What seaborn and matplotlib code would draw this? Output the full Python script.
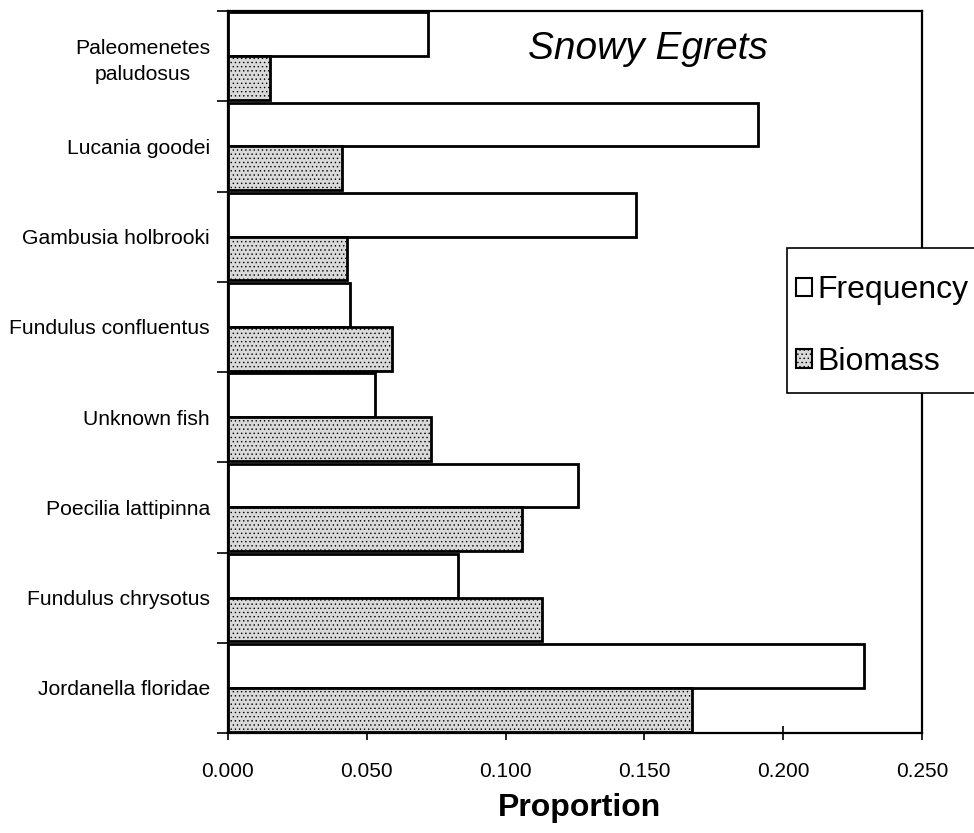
import matplotlib
matplotlib.use("Agg")
import matplotlib.pyplot as plt
from matplotlib.patches import Patch, Rectangle
import seaborn as sns
import pandas as pd
import numpy as np

species = ["Paleomenetes\npaludosus", "Lucania goodei", "Gambusia holbrooki",
           "Fundulus confluentus", "Unknown fish", "Poecilia lattipinna",
           "Fundulus chrysotus", "Jordanella floridae"]
frequency = [0.072, 0.191, 0.147, 0.044, 0.053, 0.126, 0.083, 0.229]
biomass = [0.015, 0.041, 0.043, 0.059, 0.073, 0.106, 0.113, 0.167]
series = ["Frequency", "Biomass"]
xticks = [0.0, 0.05, 0.1, 0.15, 0.2, 0.25]
xticklabels = ["0.000", "0.050", "0.100", "0.150", "0.200", "0.250"]

sns.set_theme(style="white")
plt.rcParams["font.family"] = ["Liberation Sans", "DejaVu Sans"]
plt.rcParams["hatch.linewidth"] = 0.5
plt.rcParams["text.color"] = "black"
plt.rcParams["xtick.color"] = "black"
plt.rcParams["ytick.color"] = "black"
plt.rcParams["axes.labelcolor"] = "black"

df = pd.DataFrame({
    "Species": species * 2,
    "Proportion": frequency + biomass,
    "Series": [series[0]] * len(species) + [series[1]] * len(species),
})

W, H = 974, 833
BIO_FACE = "#d9d9d9"
fig = plt.figure(figsize=(W / 100, H / 100), dpi=100)
ax = fig.add_axes([228 / W, 1 - 733 / H, 694 / W, 722 / H])
sns.barplot(data=df, y="Species", x="Proportion", hue="Series",
            order=species, hue_order=series,
            palette={"Frequency": "white", "Biomass": BIO_FACE},
            width=0.97, edgecolor="black", linewidth=2, saturation=1,
            ax=ax, legend=False)
for p in ax.containers[1]:
    p.set_hatch("....")

ax.set_xlim(0, 0.25)
ax.set_xticks(xticks)
ax.set_xticklabels(xticklabels, fontsize=15)
ax.tick_params(axis="x", direction="inout", length=10, width=1.2,
               color="black", pad=16, bottom=True)
ax.set_ylabel("")
ax.tick_params(axis="y", length=0, pad=13, labelsize=15.2)
for lab in ax.get_yticklabels():
    lab.set_multialignment("center")
    lab.set_linespacing(1.45)
ax.set_yticks(np.arange(-0.5, len(species), 1), minor=True)
ax.tick_params(axis="y", which="minor", direction="out", length=8,
               width=1.2, color="black", left=True)
ax.set_xlabel("Proportion", fontsize=23, fontweight="bold")
ax.xaxis.set_label_coords((580 - 228) / 694, -(808 - 733) / 722)
ax.xaxis.label.set_va("center")

for s in ax.spines.values():
    s.set_color("black")
    s.set_linewidth(1.6)

ax.text(0.605, 0.948, "Snowy Egrets", transform=ax.transAxes, fontsize=28,
        style="italic", ha="center", va="center")

# legend frame box (extends past the right edge as in the reference)
fig.patches.append(Rectangle((787 / W, 1 - 393 / H), 200 / W, 145 / H,
                             transform=fig.transFigure, facecolor="white",
                             edgecolor="black", linewidth=1.2, zorder=3))
handles = [Patch(facecolor="white", edgecolor="black", linewidth=1.5),
           Patch(facecolor=BIO_FACE, edgecolor="black", linewidth=1.5,
                 hatch="....")]
leg = fig.legend(handles=handles, labels=series, loc="center left",
                 bbox_to_anchor=(796 / W, 1 - 326 / H), fontsize=23,
                 frameon=False, labelspacing=1.3,
                 handlelength=0.5, handleheight=0.5, handletextpad=0.18,
                 borderpad=0.0, borderaxespad=0)
leg.set_zorder(4)

fig.savefig("out.png", dpi=100)
